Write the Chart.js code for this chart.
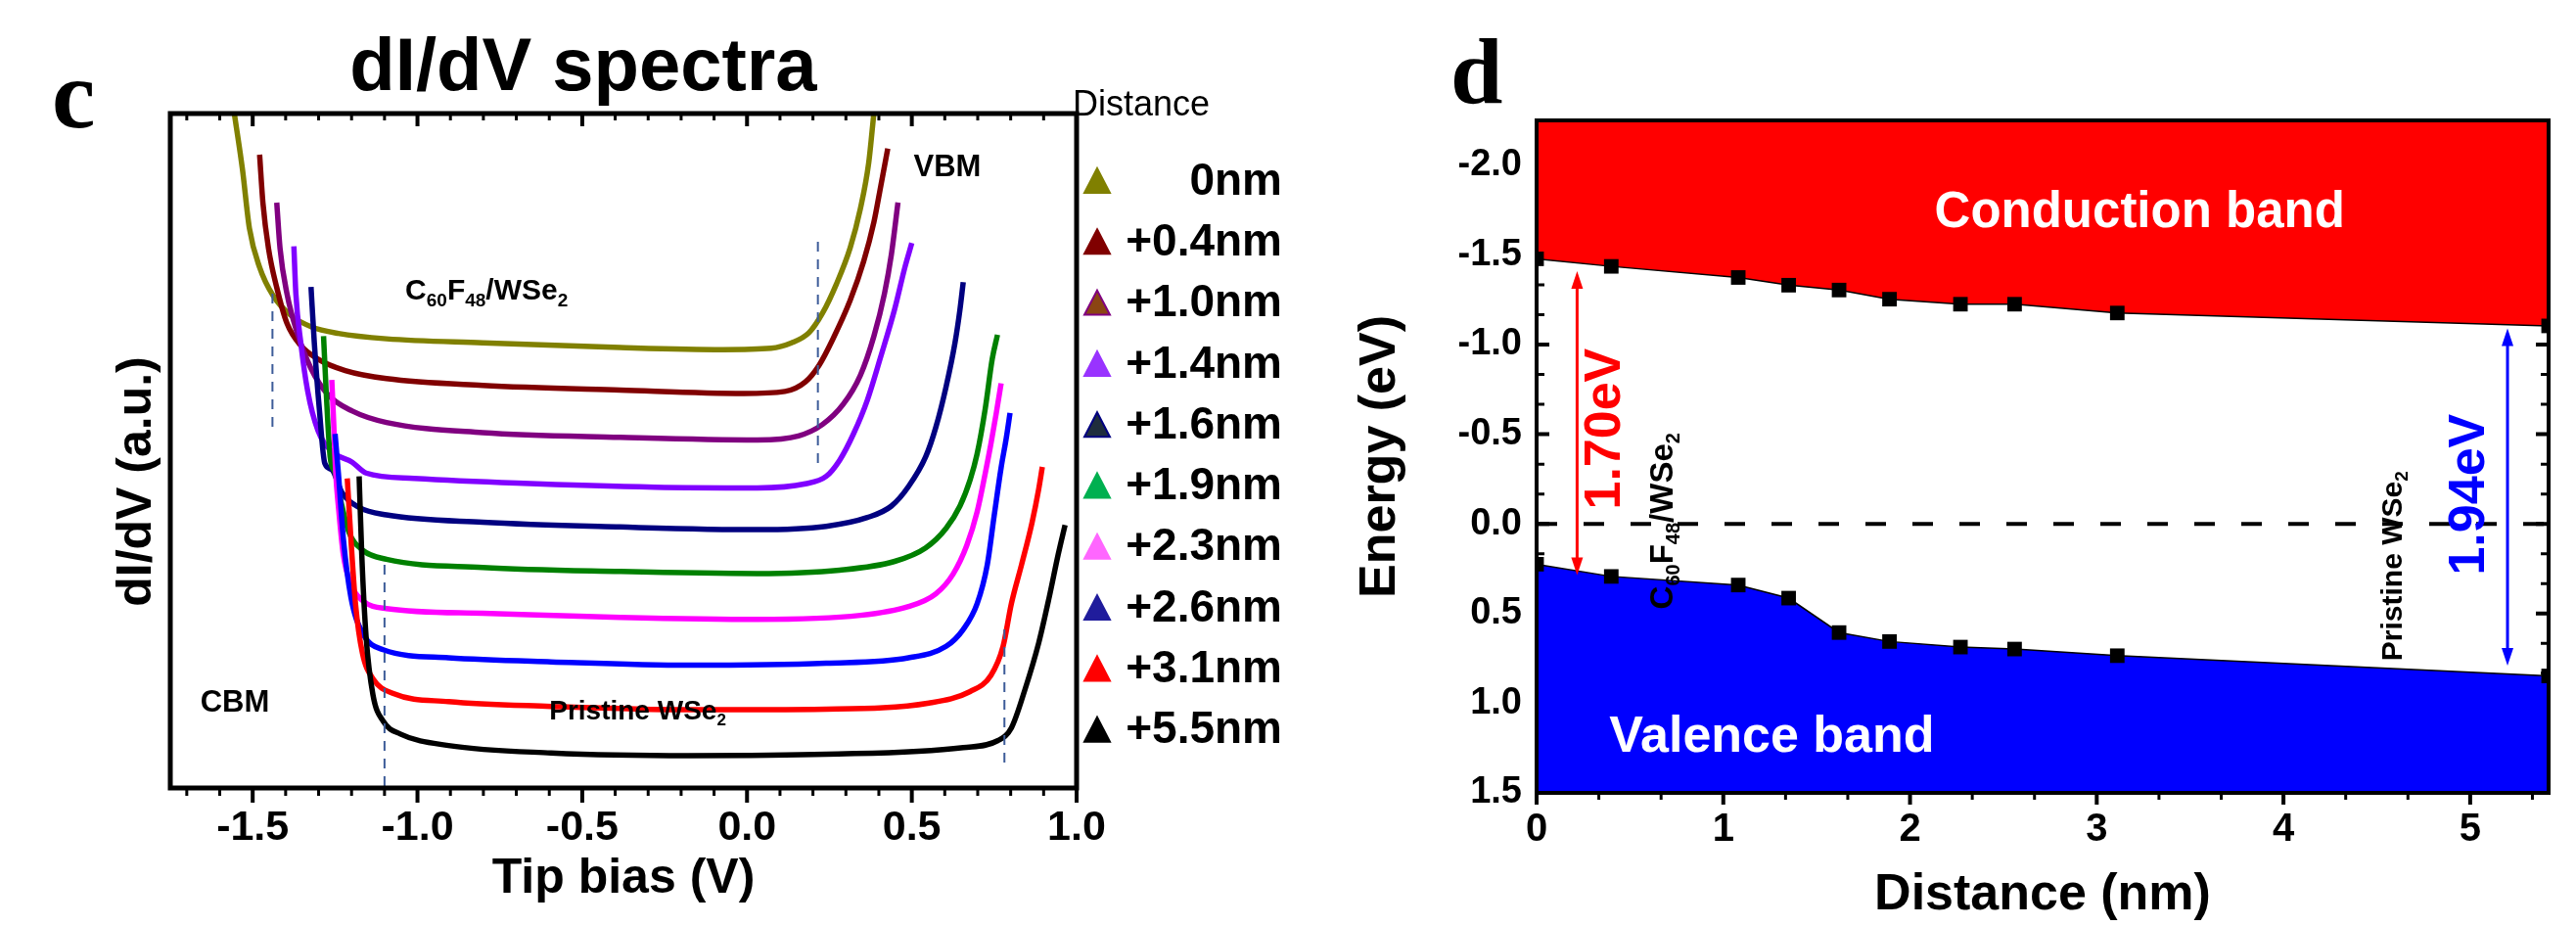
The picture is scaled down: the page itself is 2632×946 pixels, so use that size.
<!DOCTYPE html>
<html><head><meta charset="utf-8">
<script src="https://cdn.jsdelivr.net/npm/chart.js@4.4.1/dist/chart.umd.min.js"></script>
<style>
html,body{margin:0;padding:0;background:#fff;width:2632px;height:946px;overflow:hidden}
canvas{position:absolute;top:0}
</style></head><body>
<canvas id="cL" width="1400" height="946" style="left:0px"></canvas>
<canvas id="cR" width="1272" height="946" style="left:1360px"></canvas>
<script>
// ---------------- DATA (panel c: dI/dV spectra, [tip bias V, dI/dV a.u.]) ----------------
const legendLabels = ['0nm','+0.4nm','+1.0nm','+1.4nm','+1.6nm','+1.9nm','+2.3nm','+2.6nm','+3.1nm','+5.5nm'];
const biasTicks = [-1.5,-1.0,-0.5,0.0,0.5,1.0];

const spec0nm = [[-1.556,100.1],[-1.531,91.7],[-1.510,83.0],[-1.479,77.2],[-1.438,73.0],[-1.385,70.1],[-1.323,68.4],[-1.240,67.4],[-1.094,66.6],[-0.802,66.0],[-0.385,65.3],[-0.073,65.0],[0.073,65.2],[0.135,66.0],[0.188,67.5],[0.229,70.4],[0.271,74.7],[0.313,80.1],[0.344,85.9],[0.369,92.6],[0.385,100.1]];
const spec04nm = [[-1.479,93.9],[-1.469,86.8],[-1.452,80.0],[-1.427,74.2],[-1.396,68.9],[-1.354,65.6],[-1.302,63.6],[-1.219,61.9],[-1.094,60.7],[-0.802,59.7],[-0.385,59.0],[-0.010,58.5],[0.115,58.8],[0.177,60.2],[0.219,62.7],[0.260,66.5],[0.313,72.3],[0.354,78.1],[0.385,83.9],[0.406,89.3],[0.427,94.8]];
const spec10nm = [[-1.427,86.8],[-1.417,80.0],[-1.396,73.3],[-1.365,67.5],[-1.323,62.2],[-1.271,58.3],[-1.198,55.9],[-1.094,54.2],[-0.802,52.7],[-0.385,52.0],[0.031,51.6],[0.156,52.2],[0.229,53.9],[0.292,56.9],[0.344,61.2],[0.385,67.0],[0.417,73.3],[0.438,79.1],[0.458,86.8]];
const spec14nm = [[-1.375,80.3],[-1.369,73.3],[-1.354,66.0],[-1.333,58.8],[-1.302,53.0],[-1.260,49.9],[-1.198,48.3],[-1.156,46.7],[-1.010,45.9],[-0.698,45.2],[-0.281,44.6],[0.031,44.5],[0.177,45.1],[0.240,46.2],[0.281,48.6],[0.323,52.5],[0.365,57.5],[0.406,64.0],[0.448,71.0],[0.479,77.2],[0.500,80.8]];
const spec16nm = [[-1.323,74.3],[-1.313,66.0],[-1.298,56.3],[-1.281,48.1],[-1.260,47.2],[-1.229,43.8],[-1.177,41.6],[-1.094,40.5],[-0.802,39.4],[-0.385,38.7],[0.031,38.3],[0.240,38.8],[0.365,40.1],[0.438,41.8],[0.490,44.7],[0.542,49.1],[0.573,53.5],[0.604,59.5],[0.631,66.0],[0.646,70.9],[0.656,75.0]];
const spec19nm = [[-1.285,67.0],[-1.277,58.8],[-1.265,49.1],[-1.250,46.7],[-1.229,41.8],[-1.208,37.9],[-1.167,35.3],[-1.094,33.9],[-0.802,32.7],[-0.385,32.1],[0.031,31.8],[0.281,32.3],[0.448,33.6],[0.542,35.6],[0.604,38.5],[0.646,41.8],[0.677,45.7],[0.698,49.5],[0.723,56.3],[0.744,63.6],[0.760,67.2]];
const spec23nm = [[-1.260,60.5],[-1.254,53.9],[-1.248,46.7],[-1.240,41.8],[-1.225,34.6],[-1.202,30.2],[-1.167,27.8],[-1.094,26.6],[-0.802,25.9],[-0.385,25.3],[0.031,25.0],[0.344,25.6],[0.490,26.9],[0.573,28.8],[0.625,31.7],[0.667,36.0],[0.698,40.9],[0.723,46.7],[0.740,51.0],[0.756,55.5],[0.771,60.0]];
const spec26nm = [[-1.250,52.5],[-1.240,46.7],[-1.225,37.0],[-1.202,28.3],[-1.167,23.0],[-1.104,20.5],[-0.906,19.3],[-0.594,18.7],[-0.177,18.2],[0.240,18.5],[0.490,19.3],[0.604,21.0],[0.656,23.5],[0.698,27.3],[0.729,33.1],[0.750,40.4],[0.771,47.5],[0.787,52.0],[0.798,55.6]];
const spec31nm = [[-1.213,45.9],[-1.202,37.0],[-1.188,27.3],[-1.167,20.0],[-1.135,16.2],[-1.073,14.0],[-0.906,12.8],[-0.594,12.1],[-0.177,11.6],[0.240,11.7],[0.552,12.6],[0.677,14.3],[0.740,16.7],[0.777,21.0],[0.802,27.3],[0.833,33.1],[0.865,39.4],[0.885,44.3],[0.896,47.6]];
const spec55nm = [[-1.177,46.2],[-1.169,34.6],[-1.156,22.5],[-1.135,13.8],[-1.104,9.9],[-1.052,8.0],[-0.906,6.3],[-0.594,5.2],[-0.177,4.8],[0.240,5.0],[0.656,6.0],[0.760,7.0],[0.802,8.9],[0.844,14.7],[0.885,21.5],[0.917,28.3],[0.944,34.6],[0.965,39.0]];

// dashed guide lines marking band edges: bias, from, to
const guideBias = [-1.44, 0.215, -1.10, 0.781];
const guideFrom = [73.3, 81.0, 33.1, 23.5];
const guideTo   = [53.3, 48.2, 0.3, 2.9];

// ---------------- DATA (panel d: band alignment) ----------------
const bandDistance = [0, 0.40, 1.08, 1.35, 1.62, 1.89, 2.27, 2.56, 3.11, 5.42];
const cbEnergy = [-1.478, -1.436, -1.374, -1.331, -1.304, -1.253, -1.225, -1.225, -1.176, -1.104];
const vbEnergy = [0.225, 0.293, 0.341, 0.414, 0.606, 0.656, 0.687, 0.698, 0.735, 0.848];
const energyTicks = [-2.0, -1.5, -1.0, -0.5, 0.0, 0.5, 1.0, 1.5];
const distanceTicks = [0, 1, 2, 3, 4, 5];
const energyMin = -2.25, energyMax = 1.5, distanceMax = 5.42;
const gapLeft  = {x: 0.217, from: -1.41, to: 0.285, label: '1.70eV'};
const gapRight = {x: 5.20,  from: -1.09, to: 0.79,  label: '1.94eV'};

// ---------------- STYLES ----------------
const SANS = "'Liberation Sans', Arial, sans-serif";
const SERIF = "'Liberation Serif', 'Times New Roman', serif";
Chart.defaults.font.family = SANS;
Chart.defaults.color = '#000';

const curveColors = ['#808000','#800000','#800080','#8000ff','#000080','#008000','#ff00ff','#0000ff','#ff0000','#000000'];
const legendFill  = ['#808000','#800000','#8b4513','#9933ff','#1f2d3d','#00b050','#ff66ff','#201c9c','#ff0000','#000000'];
const legendEdge  = ['#808000','#800000','#800080','#9933ff','#000080','#00b050','#ff66ff','#201c9c','#ff0000','#000000'];

function drawRich(ctx, parts, x, y, size, weight, align) {
  const fontOf = sub => `${weight} ${sub ? Math.round(size*0.62) : size}px ${SANS}`;
  let w = 0;
  parts.forEach(p => { ctx.font = fontOf(p[1]); w += ctx.measureText(p[0]).width; });
  let cx = align === 'center' ? x - w/2 : (align === 'right' ? x - w : x);
  ctx.textAlign = 'left'; ctx.textBaseline = 'middle';
  parts.forEach(p => {
    ctx.font = fontOf(p[1]);
    ctx.fillText(p[0], cx, p[1] ? y + size*0.32 : y);
    cx += ctx.measureText(p[0]).width;
  });
}
const c60Parts = [['C',0],['60',1],['F',0],['48',1],['/WSe',0],['2',1]];
const pristineParts = [['Pristine WSe',0],['2',1]];

// ---------------- LEFT CHART ----------------
const curveSeries = [spec0nm, spec04nm, spec10nm, spec14nm, spec16nm, spec19nm, spec23nm, spec26nm, spec31nm, spec55nm];
const leftDatasets = curveSeries.map((s, i) => ({
  label: legendLabels[i],
  data: s.map(p => ({x: p[0], y: p[1]})),
  borderColor: curveColors[i], borderWidth: 5.5, pointRadius: 0,
  cubicInterpolationMode: 'monotone', fill: false, order: 10 - i
}));
const guideDatasets = guideBias.map((b, i) => ({
  label: 'guide' + i,
  data: [{x: b, y: guideFrom[i]}, {x: b, y: guideTo[i]}],
  borderColor: '#3d5c99', borderWidth: 2, borderDash: [10, 8], pointRadius: 0, fill: false, order: 0
}));

const leftDecor = {
  id: 'leftDecor',
  afterDatasetsDraw(chart) {
    const {ctx, chartArea: a, scales: {x, y}} = chart;
    ctx.save();
    ctx.strokeStyle = '#000'; ctx.fillStyle = '#000';
    ctx.lineWidth = 5;
    ctx.strokeRect(a.left, a.top, a.right - a.left, a.bottom - a.top);
    for (let k = -17; k <= 10; k++) {
      const px = x.getPixelForValue(k / 10);
      const major = k % 5 === 0;
      ctx.lineWidth = major ? 4 : 3;
      ctx.beginPath();
      ctx.moveTo(px, a.bottom); ctx.lineTo(px, a.bottom + (major ? 15 : 8));
      ctx.moveTo(px, a.top); ctx.lineTo(px, a.top + (major ? 13 : 7));
      ctx.stroke();
    }
    // title and panel label
    ctx.textAlign = 'center'; ctx.textBaseline = 'alphabetic';
    ctx.font = `bold 76px ${SANS}`;
    ctx.fillText('dI/dV spectra', 596, 92);
    ctx.textAlign = 'left';
    ctx.font = `bold 100px ${SERIF}`;
    ctx.fillText('c', 53, 130);
    // y axis title
    ctx.save();
    ctx.translate(140, 492); ctx.rotate(-Math.PI/2);
    ctx.textAlign = 'center'; ctx.textBaseline = 'middle';
    ctx.font = `bold 50px ${SANS}`;
    ctx.fillText('dI/dV (a.u.)', 0, 0);
    ctx.restore();
    // annotations
    ctx.textAlign = 'center'; ctx.textBaseline = 'middle';
    ctx.font = `bold 31px ${SANS}`;
    ctx.fillText('VBM', x.getPixelForValue(0.608), y.getPixelForValue(92.0));
    ctx.fillText('CBM', x.getPixelForValue(-1.554), y.getPixelForValue(12.6));
    drawRich(ctx, c60Parts, x.getPixelForValue(-1.037), y.getPixelForValue(73.6), 30, 'bold', 'left');
    drawRich(ctx, pristineParts, x.getPixelForValue(-0.60), y.getPixelForValue(11.3), 28, 'bold', 'left');
    // legend
    ctx.textAlign = 'left'; ctx.textBaseline = 'alphabetic';
    ctx.font = `36px ${SANS}`;
    ctx.fillText('Distance', 1096, 118);
    legendLabels.forEach((lab, i) => {
      const cy = 186 + i * 62.3;
      ctx.beginPath();
      ctx.moveTo(1121, cy - 14); ctx.lineTo(1134, cy + 11); ctx.lineTo(1108, cy + 11); ctx.closePath();
      ctx.fillStyle = legendFill[i]; ctx.fill();
      ctx.lineWidth = 2; ctx.strokeStyle = legendEdge[i]; ctx.stroke();
      ctx.fillStyle = '#000';
      ctx.textAlign = 'right'; ctx.textBaseline = 'middle';
      ctx.font = `bold 46px ${SANS}`;
      ctx.fillText(lab, 1310, cy);
    });
    ctx.restore();
  }
};

new Chart(document.getElementById('cL'), {
  type: 'line',
  data: {datasets: [...guideDatasets, ...leftDatasets]},
  options: {
    responsive: false, animation: false, devicePixelRatio: 1,
    layout: {padding: {left: 0, top: 116, right: 300, bottom: 0}},
    plugins: {legend: {display: false}, tooltip: {enabled: false}},
    scales: {
      x: {
        type: 'linear', min: -1.75, max: 1.0,
        afterFit: s => { s.height = 141; },
        afterBuildTicks: s => { s.ticks = biasTicks.map(v => ({value: v})); },
        ticks: {autoSkip: false, maxRotation: 0, padding: 15, color: '#000',
                font: {size: 43, weight: 'bold'}, callback: v => Number(v).toFixed(1)},
        grid: {display: false, drawTicks: false}, border: {display: false},
        title: {display: true, text: 'Tip bias (V)', color: '#000',
                font: {size: 50, weight: 'bold', lineHeight: 1.2}, padding: {top: 0, bottom: 18}}
      },
      y: {
        type: 'linear', min: 0, max: 100,
        afterFit: s => { s.width = 174; },
        ticks: {display: false}, grid: {display: false, drawTicks: false}, border: {display: false}
      }
    }
  },
  plugins: [leftDecor]
});

// ---------------- RIGHT CHART ----------------
const R_OFF = 1360;
function arrowV(ctx, x, y1, y2, color) {
  const hl = 18, hw = 6;
  ctx.strokeStyle = color; ctx.fillStyle = color; ctx.lineWidth = 3;
  ctx.beginPath(); ctx.moveTo(x, y1 + hl - 2); ctx.lineTo(x, y2 - hl + 2); ctx.stroke();
  ctx.beginPath(); ctx.moveTo(x, y1); ctx.lineTo(x - hw, y1 + hl); ctx.lineTo(x + hw, y1 + hl); ctx.closePath(); ctx.fill();
  ctx.beginPath(); ctx.moveTo(x, y2); ctx.lineTo(x - hw, y2 - hl); ctx.lineTo(x + hw, y2 - hl); ctx.closePath(); ctx.fill();
}
function rotText(ctx, text, x, y, font, color) {
  ctx.save(); ctx.translate(x, y); ctx.rotate(-Math.PI/2);
  ctx.font = font; ctx.fillStyle = color; ctx.textAlign = 'center'; ctx.textBaseline = 'middle';
  ctx.fillText(text, 0, 0); ctx.restore();
}
const rightDecor = {
  id: 'rightDecor',
  beforeDatasetsDraw(chart) {
    const {ctx, chartArea: a, scales: {y}} = chart;
    ctx.save(); ctx.strokeStyle = '#000';
    for (let k = -13; k <= 9; k++) {
      const py = y.getPixelForValue(k / 6);
      const major = k % 3 === 0;
      const len = major ? 13 : 8;
      ctx.lineWidth = major ? 4 : 3;
      ctx.beginPath();
      ctx.moveTo(a.left, py); ctx.lineTo(a.left + len, py);
      ctx.moveTo(a.right, py); ctx.lineTo(a.right - len, py);
      ctx.stroke();
    }
    ctx.restore();
  },
  afterDatasetsDraw(chart) {
    const {ctx, chartArea: a, scales: {x, y}} = chart;
    ctx.save();
    ctx.strokeStyle = '#000'; ctx.lineWidth = 4;
    ctx.strokeRect(a.left, a.top, a.right - a.left, a.bottom - a.top);
    for (let k = 0; k <= 16; k++) {
      const v = k / 3; if (v > distanceMax + 1e-6) break;
      const px = x.getPixelForValue(v);
      const major = k % 3 === 0;
      ctx.lineWidth = major ? 4 : 3;
      ctx.beginPath(); ctx.moveTo(px, a.bottom); ctx.lineTo(px, a.bottom + (major ? 12 : 7)); ctx.stroke();
    }
    // band labels
    ctx.fillStyle = '#fff'; ctx.textAlign = 'center'; ctx.textBaseline = 'middle';
    ctx.font = `bold 51px ${SANS}`;
    ctx.fillText('Conduction band', x.getPixelForValue(3.23), y.getPixelForValue(-1.73));
    ctx.font = `bold 52px ${SANS}`;
    ctx.fillText('Valence band', x.getPixelForValue(1.26), y.getPixelForValue(1.19));
    // gap arrows
    arrowV(ctx, x.getPixelForValue(gapLeft.x), y.getPixelForValue(gapLeft.from), y.getPixelForValue(gapLeft.to), '#ff0000');
    arrowV(ctx, x.getPixelForValue(gapRight.x), y.getPixelForValue(gapRight.from), y.getPixelForValue(gapRight.to), '#0000ff');
    rotText(ctx, gapLeft.label, x.getPixelForValue(0.372), y.getPixelForValue(-0.53), `bold 52px ${SANS}`, '#ff0000');
    rotText(ctx, gapRight.label, x.getPixelForValue(5.0), y.getPixelForValue(-0.164), `bold 52px ${SANS}`, '#0000ff');
    // rotated region labels
    ctx.fillStyle = '#000';
    ctx.save(); ctx.translate(x.getPixelForValue(0.68), y.getPixelForValue(-0.016)); ctx.rotate(-Math.PI/2);
    drawRich(ctx, c60Parts, 0, 0, 33, 'bold', 'center'); ctx.restore();
    ctx.save(); ctx.translate(x.getPixelForValue(4.59), y.getPixelForValue(0.235)); ctx.rotate(-Math.PI/2);
    drawRich(ctx, pristineParts, 0, 0, 30, 'bold', 'center'); ctx.restore();
    // panel label
    ctx.fillStyle = '#000'; ctx.textAlign = 'left'; ctx.textBaseline = 'alphabetic';
    ctx.font = `bold 96px ${SERIF}`;
    ctx.fillText('d', 1482 - R_OFF, 105);
    ctx.restore();
  }
};

new Chart(document.getElementById('cR'), {
  type: 'line',
  data: {datasets: [
    {label: 'Fermi level', data: [{x: 0, y: 0}, {x: distanceMax, y: 0}],
     borderColor: '#000', borderWidth: 4, borderDash: [21, 27], pointRadius: 0, fill: false, order: 0},
    {label: 'CBM', data: bandDistance.map((d, i) => ({x: d, y: cbEnergy[i]})),
     borderColor: '#000', borderWidth: 1.5, backgroundColor: '#ff0000', fill: {value: energyMin},
     pointStyle: 'rect', pointRadius: 10.5, pointBackgroundColor: '#000', pointBorderColor: '#000', pointBorderWidth: 0,
     tension: 0, clip: 0, order: 1},
    {label: 'VBM', data: bandDistance.map((d, i) => ({x: d, y: vbEnergy[i]})),
     borderColor: '#000', borderWidth: 1.5, backgroundColor: '#0000ff', fill: {value: energyMax},
     pointStyle: 'rect', pointRadius: 10.5, pointBackgroundColor: '#000', pointBorderColor: '#000', pointBorderWidth: 0,
     tension: 0, clip: 0, order: 2}
  ]},
  options: {
    responsive: false, animation: false, devicePixelRatio: 1,
    layout: {padding: {left: 0, top: 123, right: 28, bottom: 0}},
    plugins: {legend: {display: false}, tooltip: {enabled: false}},
    scales: {
      x: {
        type: 'linear', min: 0, max: distanceMax,
        afterFit: s => { s.height = 136; },
        afterBuildTicks: s => { s.ticks = distanceTicks.map(v => ({value: v})); },
        ticks: {autoSkip: false, maxRotation: 0, padding: 14, color: '#000',
                font: {size: 40, weight: 'bold'}, callback: v => String(v)},
        grid: {display: false, drawTicks: false}, border: {display: false},
        title: {display: true, text: 'Distance (nm)', color: '#000',
                font: {size: 52, weight: 'bold', lineHeight: 1.2}, padding: {top: 0, bottom: 0}}
      },
      y: {
        type: 'linear', reverse: true, min: energyMin, max: energyMax,
        afterFit: s => { s.width = 210; },
        afterBuildTicks: s => { s.ticks = energyTicks.map(v => ({value: v})); },
        ticks: {autoSkip: false, padding: 15, color: '#000',
                font: {size: 38, weight: 'bold'}, callback: v => Number(v).toFixed(1)},
        grid: {display: false, drawTicks: false}, border: {display: false},
        title: {display: true, text: 'Energy (eV)', color: '#000',
                font: {size: 52, weight: 'bold', lineHeight: 1.2}, padding: {top: 19, bottom: 0}}
      }
    }
  },
  plugins: [rightDecor]
});
</script>
</body></html>
